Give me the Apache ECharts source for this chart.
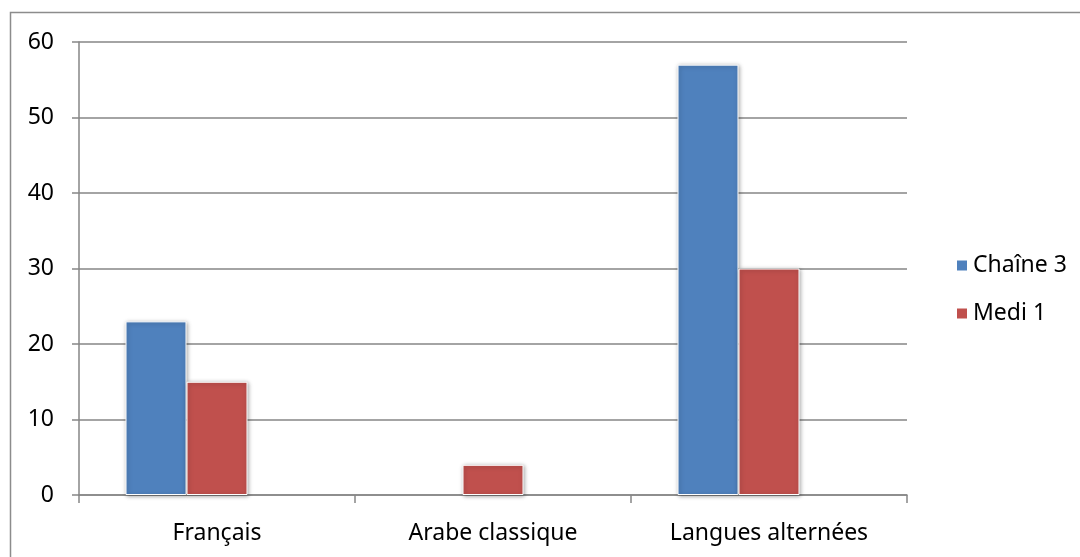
<!DOCTYPE html>
<html>
<head>
<meta charset="utf-8">
<script src="https://cdn.jsdelivr.net/npm/echarts@6/dist/echarts.min.js"></script>
<style>
html,body{margin:0;padding:0;background:#fff;}
#chart{width:1080px;height:557px;}
</style>
</head>
<body>
<div id="chart"></div>
<script>
var categories = ['Français', 'Arabe classique', 'Langues alternées'];
var chaine3 = [23, 0, 57];
var medi1 = [15, 4, 30];
var emptySeries = [null, null, null];
var yTicks = [0, 10, 20, 30, 40, 50, 60];

var FONT = 'Noto Sans';
var chart = echarts.init(document.getElementById('chart'), null, {renderer: 'canvas'});
var barStyle = function (c) {
  return {
    color: c, borderColor: '#ffffff', borderWidth: 1,
    shadowBlur: 4, shadowColor: 'rgba(0,0,0,0.35)', shadowOffsetX: 1, shadowOffsetY: 1
  };
};
var toItems = function (arr) {
  return arr.map(function (v) {
    return v === 0 ? {value: v, itemStyle: {shadowBlur: 0, borderWidth: 0, shadowColor: 'transparent'}} : v;
  });
};
chart.setOption({
  animation: false,
  backgroundColor: '#ffffff',
  graphic: [{
    type: 'rect', silent: true,
    shape: {x: 10.5, y: 12.5, width: 1100, height: 600},
    style: {fill: 'none', stroke: '#8c8c8c', lineWidth: 1.5}
  }],
  grid: {left: 79, right: 173, top: 42, bottom: 62, containLabel: false},
  legend: {
    orient: 'vertical', left: 950, top: 249,
    data: ['Chaîne 3', 'Medi 1'],
    icon: 'rect', itemWidth: 12, itemHeight: 12, itemGap: 25,
    textStyle: {fontFamily: FONT, fontSize: 23, color: '#000'}
  },
  xAxis: {
    type: 'category', data: categories,
    axisLine: {lineStyle: {color: '#868686', width: 1.5}},
    axisTick: {show: true, length: 8, alignWithLabel: false, lineStyle: {color: '#868686', width: 1.5}},
    axisLabel: {fontFamily: FONT, fontSize: 23, color: '#000', margin: 27}
  },
  yAxis: {
    type: 'value', min: 0, max: 60, interval: 10,
    axisLine: {show: true, lineStyle: {color: '#868686', width: 1.5}},
    axisTick: {show: true, length: 7, lineStyle: {color: '#868686', width: 1.5}},
    splitLine: {lineStyle: {color: '#868686', width: 1.5}},
    axisLabel: {fontFamily: FONT, fontSize: 23, color: '#000', margin: 25,
      formatter: function (v) { return yTicks.indexOf(v) >= 0 ? String(v) : ''; }}
  },
  series: [
    {name: 'Chaîne 3', type: 'bar', data: toItems(chaine3), barWidth: 61, barGap: 0, itemStyle: barStyle('#4F81BD')},
    {name: 'Medi 1', type: 'bar', data: toItems(medi1), barWidth: 61, barGap: 0, itemStyle: barStyle('#C0504D')},
    {name: 'empty', type: 'bar', data: emptySeries, barWidth: 61, barGap: 0, itemStyle: barStyle('#9BBB59')}
  ]
});
</script>
</body>
</html>
